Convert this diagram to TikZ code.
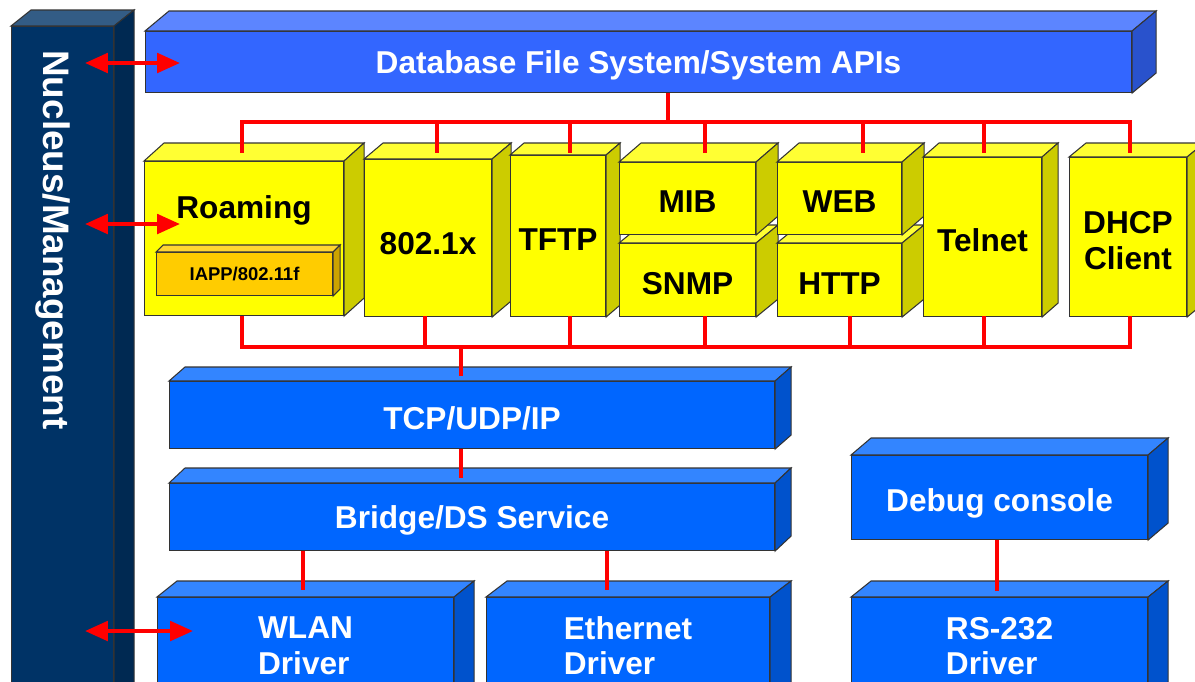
\documentclass[tikz,border=0pt]{standalone}
\usepackage{fontspec}
\setmainfont{Liberation Sans}
\usetikzlibrary{calc,arrows.meta}

\definecolor{dbblue}{RGB}{51,102,255}
\definecolor{stackblue}{RGB}{0,102,255}
\definecolor{modyellow}{RGB}{255,255,0}
\definecolor{subamber}{RGB}{255,204,0}
\definecolor{navy}{RGB}{0,51,102}
\definecolor{wire}{RGB}{255,0,0}

\tikzstyle{face} = [draw=black!80, line width=0.6pt, rectangle, inner sep=0pt,
    anchor=north west]
\tikzstyle{lbl} = [inner sep=0pt, font=\fontsize{18}{20}\selectfont\bfseries, align=center]
\tikzstyle{bus} = [draw=wire, line width=2.3pt]
\tikzstyle{mgmt} = [draw=wire, line width=2.3pt,
    {Triangle[width=11pt,length=13pt]}-{Triangle[width=11pt,length=13pt]}]

% colour, label options, name, corner, width, height, depth, text
\newcommand{\slab}[8]{%
  \node[face, fill=#1, minimum width=#5*0.02cm, minimum height=#6*0.02cm] (#3) at #4 {};
  \filldraw[fill=#1!80!white, draw=black!80, line width=0.6pt]
    (#3.north west) -- ++#7 -- ($(#3.north east)+#7$) -- (#3.north east) -- cycle;
  \filldraw[fill=#1!80!black, draw=black!80, line width=0.6pt]
    (#3.north east) -- ++#7 -- ($(#3.south east)+#7$) -- (#3.south east) -- cycle;
  \node[lbl, #2] (#3-txt) at ([yshift=-2pt]#3.center) {#8};
}

\begin{document}
\begin{tikzpicture}[x=0.02cm, y=-0.02cm]
\clip (0,0) rectangle (1195,681);
\fill[white] (0,0) rectangle (1195,681);

% management column
\slab{navy}{}{nucleus}{(11,26)}{102}{690}{(20,-16)}{}
\node[rotate=-90, text=white, font=\fontsize{21}{24}\selectfont\bfseries] (nuctxt) at (53,240) {Nucleus/Management};

% top layer
\slab{dbblue}{text=white}{db}{(145,31)}{986}{61}{(24,-20)}{Database File System/System APIs}

% modules
\slab{modyellow}{}{roam}{(144,161)}{199}{154}{(20,-18)}{}
\node[lbl] (roamtxt) at (244,210) {Roaming};
\slab{subamber}{font=\fontsize{10.5}{12}\selectfont\bfseries, yshift=2pt}{iapp}{(156,252)}{176}{43}{(7,-7)}{IAPP/802.11f}
\slab{modyellow}{yshift=-1pt}{dotx}{(364,159)}{127}{157}{(19,-16)}{802.1x}
\slab{modyellow}{}{tftp}{(510,155)}{95}{161}{(14,-12)}{TFTP}
\slab{modyellow}{}{snmp}{(619,243)}{136}{73}{(22,-18)}{SNMP}
\slab{modyellow}{}{mib}{(619,162)}{136}{72}{(22,-19)}{MIB}
\slab{modyellow}{}{http}{(777,243)}{124}{73}{(22,-18)}{HTTP}
\slab{modyellow}{}{web}{(777,162)}{124}{72}{(22,-19)}{WEB}
\slab{modyellow}{}{telnet}{(923,157)}{118}{159}{(16,-14)}{Telnet}
\slab{modyellow}{}{dhcp}{(1069,157)}{117}{159}{(17,-14)}{DHCP\\Client}

% stack
\slab{stackblue}{text=white}{tcp}{(169,381)}{605}{67}{(16,-14)}{TCP/UDP/IP}
\slab{stackblue}{text=white}{bridge}{(169,483)}{605}{67}{(16,-15)}{Bridge/DS Service}
\slab{stackblue}{text=white, align=left, yshift=3pt}{wlan}{(157,597)}{296}{100}{(20,-16)}{WLAN\\Driver}
\slab{stackblue}{text=white, align=left, yshift=3pt}{eth}{(486,597)}{283}{100}{(21,-16)}{Ethernet\\Driver}
\slab{stackblue}{text=white, yshift=-1.5pt}{debug}{(851,455)}{296}{84}{(20,-17)}{Debug console}
\slab{stackblue}{text=white, align=left, yshift=3pt}{rs}{(851,597)}{296}{100}{(20,-16)}{RS-232\\Driver}

% buses
\coordinate (topbus) at (668,122);
\draw[bus] (db.south -| topbus) -- (topbus);
\draw[bus] (242,153) |- (1130,122) -- (1130,153);
\foreach \x in {437,570,705,863,984}
  \draw[bus] (\x,122) -- (\x,153);
\draw[bus] (242,316) |- (1130,347) -- (1130,316);
\foreach \x in {425,570,705,850,984}
  \draw[bus] (\x,316) -- (\x,347);
\coordinate (lowbus) at (461,347);
\draw[bus] (lowbus) -- (lowbus |- 0,376);
\draw[bus] (tcp.south -| lowbus) -- (461,478);
\draw[bus] (bridge.south -| 303,0) -- (303,590);
\draw[bus] (bridge.south -| 607,0) -- (607,590);
\draw[bus] (debug.south -| 997,0) -- (997,591);

% management links
\coordinate (mgA) at (85,63);   \coordinate (dbA) at (180,63);
\coordinate (mgB) at (85,224);  \coordinate (roamA) at (180,224);
\coordinate (mgC) at (85,631);  \coordinate (wlanA) at (193,631);
\draw[mgmt] (mgA) -- (dbA);
\draw[mgmt] (mgB) -- (roamA);
\draw[mgmt] (mgC) -- (wlanA);

\end{tikzpicture}
\end{document}
